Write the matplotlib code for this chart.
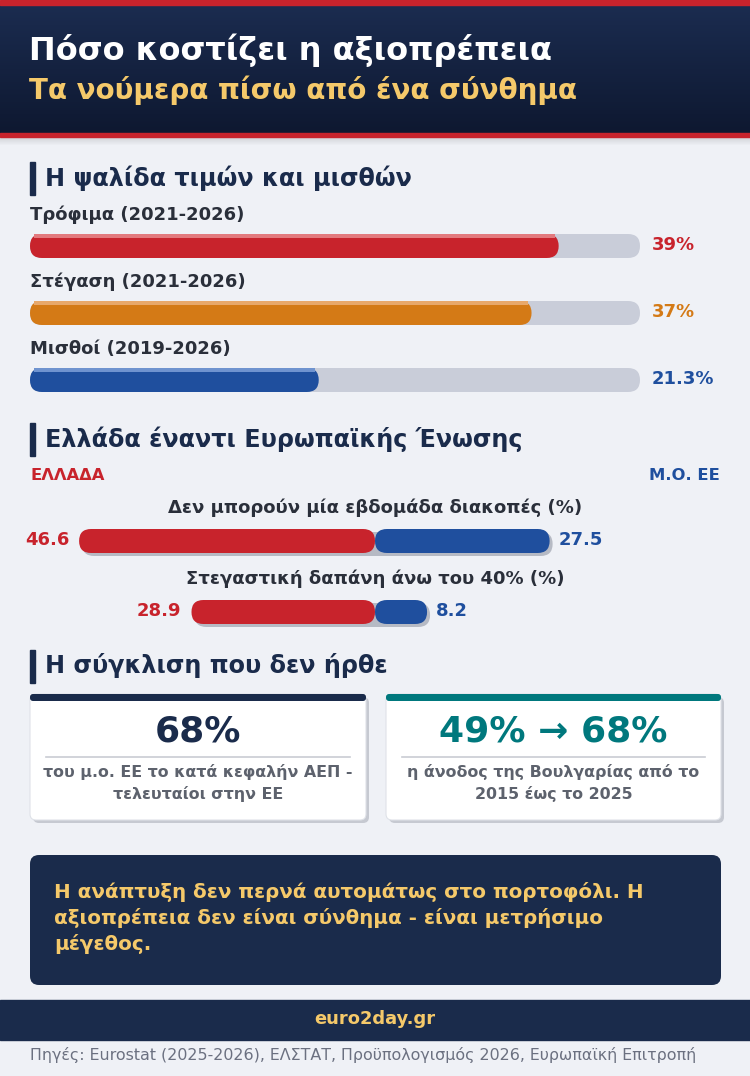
import numpy as np
import matplotlib
matplotlib.use("Agg")
import matplotlib.pyplot as plt
from matplotlib.patches import FancyBboxPatch, Rectangle

plt.rcParams['font.family'] = ['DejaVu Sans']

# ---- data ----
title = "Πόσο κοστίζει η αξιοπρέπεια"
subtitle = "Τα νούμερα πίσω από ένα σύνθημα"

section_titles = ["Η ψαλίδα τιμών και μισθών",
                  "Ελλάδα έναντι Ευρωπαϊκής Ένωσης",
                  "Η σύγκλιση που δεν ήρθε"]

gap_labels = ["Τρόφιμα (2021-2026)", "Στέγαση (2021-2026)", "Μισθοί (2019-2026)"]
gap_values = [39, 37, 21.3]
gap_value_labels = ["39%", "37%", "21.3%"]
gap_max = 45

compare_labels = ["Δεν μπορούν μία εβδομάδα διακοπές (%)",
                  "Στεγαστική δαπάνη άνω του 40% (%)"]
greece_values = [46.6, 28.9]
eu_values = [27.5, 8.2]

card_big = ["68%", "49% → 68%"]
card_text = ["του μ.ο. ΕΕ το κατά κεφαλήν ΑΕΠ -\nτελευταίοι στην ΕΕ",
             "η άνοδος της Βουλγαρίας από το\n2015 έως το 2025"]

quote = ("Η ανάπτυξη δεν περνά αυτομάτως στο πορτοφόλι. Η\n"
         "αξιοπρέπεια δεν είναι σύνθημα - είναι μετρήσιμο\n"
         "μέγεθος.")
brand = "euro2day.gr"
sources = "Πηγές: Eurostat (2025-2026), ΕΛΣΤΑΤ, Προϋπολογισμός 2026, Ευρωπαϊκή Επιτροπή"

# ---- colours ----
BG = "#eff1f6"
NAVY = "#1a2b4b"
RED = "#c8232c"
ORANGE = "#d47a16"
BLUE = "#1f4f9e"
TRACK = "#c9cdd9"
TEAL = "#00787d"
GOLD = "#f5c96a"
DARK = "#2a2f3a"
GREY = "#5d626d"
bar_colors = [RED, ORANGE, BLUE]
bar_light = ["#e27a7e", "#e8a86a", "#6f93cf"]

W, H = 750, 1076
fig = plt.figure(figsize=(W / 100, H / 100), dpi=100)
fig.patch.set_facecolor(BG)

ax = fig.add_axes([0, 0, 1, 1])
ax.set_xlim(0, W)
ax.set_ylim(H, 0)
ax.axis("off")
ax.set_facecolor(BG)


def pix_axes(x0, x1, y0, y1, xlim):
    a = fig.add_axes([x0 / W, 1 - y1 / H, (x1 - x0) / W, (y1 - y0) / H])
    a.set_xlim(*xlim)
    a.set_ylim(y1, y0)
    a.axis("off")
    a.patch.set_alpha(0)
    return a


def rbar(a, x, y, w, h, color, radius_px, k, z=2, **kw):
    p = FancyBboxPatch((x, y), w, h, boxstyle=f"round,pad=0,rounding_size={radius_px / k}",
                       mutation_aspect=k, facecolor=color, edgecolor="none", zorder=z, **kw)
    a.add_patch(p)
    return p


# ---- header ----
grad = np.linspace(0, 1, 256).reshape(-1, 1)
cmap = matplotlib.colors.LinearSegmentedColormap.from_list("hdr", ["#1b2c50", "#0e1830"])
ax.imshow(grad, cmap=cmap, extent=(0, W, 134, 5), aspect="auto", zorder=1)
ax.add_patch(Rectangle((0, 0), W, 5, color=RED, zorder=2))
ax.add_patch(Rectangle((0, 133), W, 4, color=RED, zorder=2))
for i in range(8):
    ax.add_patch(Rectangle((0, 137 + i), W, 1, color="#000000", alpha=0.12 * (1 - i / 8), lw=0, zorder=1))
ax.text(29, 50, title, color="white", fontsize=23, fontweight="bold", va="center", zorder=3)
ax.text(29, 90, subtitle, color=GOLD, fontsize=20, fontweight="bold", va="center", zorder=3)


def section(y, text):
    ax.add_patch(Rectangle((30, y - 16), 5, 33, color=NAVY, zorder=2))
    ax.text(45, y, text, color=NAVY, fontsize=17.2, fontweight="bold", va="center")


# ---- section 1: price / wage gap ----
section(178, section_titles[0])
bar_y = [246, 313, 380]
k1 = 610 / gap_max
a1 = pix_axes(30, 640, 225, 400, (0, gap_max))
for lab, v, vl, yc, c, lc in zip(gap_labels, gap_values, gap_value_labels, bar_y, bar_colors, bar_light):
    ax.text(30, yc - 31, lab, color=DARK, fontsize=13, fontweight="bold", va="center")
    rbar(a1, 0, yc - 12, gap_max, 24, TRACK, 12, k1, z=1)
    rbar(a1, 0, yc - 12, v, 24, c, 12, k1, z=2)
    a1.add_patch(Rectangle((4 / k1, yc - 12), v - 8 / k1, 4, color=lc, lw=0, zorder=3))
    ax.text(652, yc - 1, vl, color=c, fontsize=13, fontweight="bold", va="center")

# ---- section 2: Greece vs EU ----
section(439, section_titles[1])
ax.text(30, 475, "ΕΛΛΑΔΑ", color=RED, fontsize=11.8, fontweight="bold", va="center")
ax.text(720, 475, "Μ.Ο. ΕΕ", color=BLUE, fontsize=11.8, fontweight="bold", va="center", ha="right")
k2 = 6.35
half = 345 / k2
a2 = pix_axes(30, 720, 490, 640, (-half, half))
cmp_y = [541, 612]
for lab, g, e, yc in zip(compare_labels, greece_values, eu_values, cmp_y):
    ax.text(375, yc - 33, lab, color=DARK, fontsize=13, fontweight="bold", va="center", ha="center")
    rbar(a2, -g + 3 / k2, yc - 9, g + e, 24, "#b6bac4", 12, k2, z=1)
    rbar(a2, -g, yc - 12, g, 24, RED, 12, k2, z=2)
    rbar(a2, 0, yc - 12, e, 24, BLUE, 12, k2, z=3)
    a2.text(-g - 10 / k2, yc - 1, f"{g:.1f}", color=RED, fontsize=13, fontweight="bold",
            va="center", ha="right")
    a2.text(e + 9 / k2, yc - 1, f"{e:.1f}", color=BLUE, fontsize=13, fontweight="bold",
            va="center", ha="left")

# ---- section 3: cards ----
section(666, section_titles[2])
cards_x = [(30, 366), (386, 721)]
card_colors = [NAVY, TEAL]
for (x0, x1), big, txt, cc in zip(cards_x, card_big, card_text, card_colors):
    ax.add_patch(FancyBboxPatch((x0 + 3, 697), x1 - x0, 126, boxstyle="round,pad=0,rounding_size=6",
                                facecolor="#c6c9d1", edgecolor="none", zorder=1))
    ax.add_patch(FancyBboxPatch((x0, 694), x1 - x0, 126, boxstyle="round,pad=0,rounding_size=6",
                                facecolor="white", edgecolor="#dfe2e8", lw=0.8, zorder=2))
    ax.add_patch(FancyBboxPatch((x0, 694), x1 - x0, 7, boxstyle="round,pad=0,rounding_size=3",
                                facecolor=cc, edgecolor="none", zorder=3))
    xc = (x0 + x1) / 2
    ax.text(xc, 731, big, color=cc, fontsize=26, fontweight="bold", va="center", ha="center", zorder=4)
    ax.plot([x0 + 16, x1 - 16], [757, 757], color="#c9ccd3", lw=1.2, zorder=4)
    ax.text(xc, 783, txt, color=GREY, fontsize=11.4, fontweight="bold", va="center", ha="center",
            linespacing=1.4, zorder=4)

# ---- quote box ----
ax.add_patch(FancyBboxPatch((30, 855), 691, 130, boxstyle="round,pad=0,rounding_size=9",
                            facecolor=NAVY, edgecolor="none", zorder=2))
ax.text(54, 918, quote, color=GOLD, fontsize=14.3, fontweight="bold", va="center", ha="left",
        linespacing=1.4, zorder=3)

# ---- footer ----
ax.add_patch(Rectangle((0, 1000), W, 40, color=NAVY, zorder=2))
ax.text(W / 2, 1019, brand, color=GOLD, fontsize=12.9, fontweight="bold", va="center", ha="center", zorder=3)
ax.text(30, 1055, sources, color="#6b7080", fontsize=11.4, va="center", ha="left")

fig.savefig("out.png", dpi=100, facecolor=BG)
